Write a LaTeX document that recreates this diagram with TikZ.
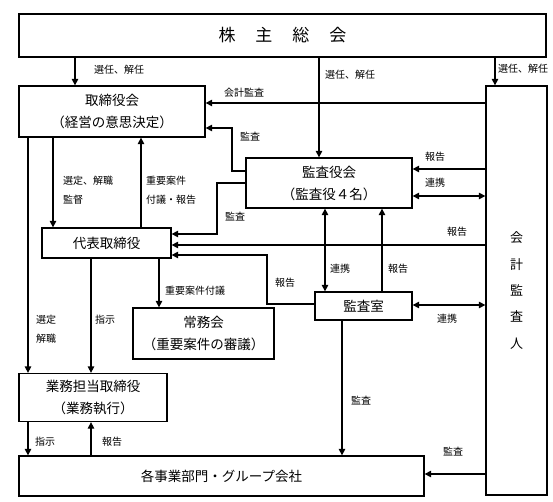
\documentclass[tikz,border=0pt]{standalone}
\usepackage{fontspec}
\setmainfont{Noto Sans CJK JP}
\usetikzlibrary{arrows.meta}
\begin{document}
\begin{tikzpicture}[x=1pt,y=-1pt,
  box/.style={draw,line width=1.3pt,inner sep=0pt,align=center,font=\fontsize{13.5}{22}\selectfont},
  conn/.style={line width=1.3pt},
  arr/.style={conn,-{Triangle[length=6.5pt,width=6.5pt]}},
  darr/.style={conn,{Triangle[length=6.5pt,width=6.5pt]}-{Triangle[length=6.5pt,width=6.5pt]}},
  lbl/.style={font=\fontsize{10}{10}\selectfont,inner sep=0pt}]
\useasboundingbox (0,0) rectangle (553,502);

% boxes
\node[box,minimum width=527pt,minimum height=43pt,font=\fontsize{17}{17}\selectfont] (top) at (282.5,35.5) {株\hspace{20pt}主\hspace{20pt}総\hspace{20pt}会};
\node[box,minimum width=186pt,minimum height=51pt] (tori) at (112,111.5) {取締役会\\（経営の意思決定）};
\node[box,minimum width=61pt,minimum height=409pt,font=\fontsize{13}{26.3}\selectfont] (kaikei) at (516.5,290.5) {会\\計\\監\\査\\人};
\node[box,minimum width=166pt,minimum height=50pt] (kansayaku) at (329,183) {監査役会\\（監査役４名）};
\node[box,minimum width=129pt,minimum height=30pt] (daihyo) at (106.5,243) {代表取締役};
\node[box,minimum width=141pt,minimum height=51pt] (jomu) at (203.5,333.5) {常務会\\（重要案件の審議）};
\node[box,minimum width=97pt,minimum height=28pt] (shitsu) at (363.5,306) {監査室};
\node[box,minimum width=148pt,minimum height=48pt] (gyomu) at (93,397.5) {業務担当取締役\\（業務執行）};
\node[box,minimum width=405pt,minimum height=40pt] (kaku) at (221.5,476) {各事業部門・グループ会社};

% helper coordinates
\coordinate (xa) at (75,0);
\coordinate (xb) at (319,0);
\coordinate (xc) at (495,0);
\coordinate (xd) at (28,0);
\coordinate (xe) at (53,0);
\coordinate (xf) at (141,0);
\coordinate (xg) at (91,0);
\coordinate (xh) at (159,0);
\coordinate (xi) at (325,0);
\coordinate (xj) at (382,0);
\coordinate (xk) at (342,0);
\coordinate (ya) at (0,103);
\coordinate (yb) at (0,169);
\coordinate (yc) at (0,196);
\coordinate (yd) at (0,245);
\coordinate (ye) at (0,305);
\coordinate (yf) at (0,474);
\coordinate (p1) at (232,171);
\coordinate (p2) at (232,128);
\coordinate (p3) at (217,183);
\coordinate (p4) at (217,234);
\coordinate (p5) at (267,304);
\coordinate (p6) at (267,255);

% connectors
\draw[arr] (xa |- top.south) -- (xa |- tori.north);
\draw[arr] (xb |- top.south) -- (xb |- kansayaku.north);
\draw[arr] (xc |- top.south) -- (xc |- kaikei.north);
\draw[arr] (kaikei.west |- ya) -- (tori.east |- ya);
\draw[arr] (kansayaku.west |- p1) -- (p1) -- (p2) -- (tori.east |- p2);
\draw[arr] (kansayaku.west |- p3) -- (p3) -- (p4) -- (daihyo.east |- p4);
\draw[arr] (kaikei.west |- yb) -- (kansayaku.east |- yb);
\draw[darr] (kansayaku.east |- yc) -- (kaikei.west |- yc);
\draw[arr] (kaikei.west |- yd) -- (daihyo.east |- yd);
\draw[arr] (shitsu.west |- p5) -- (p5) -- (p6) -- (daihyo.east |- p6);
\draw[darr] (xi |- kansayaku.south) -- (xi |- shitsu.north);
\draw[arr] (xj |- shitsu.north) -- (xj |- kansayaku.south);
\draw[darr] (shitsu.east |- ye) -- (kaikei.west |- ye);
\draw[arr] (xk |- shitsu.south) -- (xk |- kaku.north);
\draw[arr] (kaikei.west |- yf) -- (kaku.east |- yf);
\draw[arr] (xe |- tori.south) -- (xe |- daihyo.north);
\draw[arr] (xf |- daihyo.north) -- (xf |- tori.south);
\draw[arr] (xd |- tori.south) -- (xd |- gyomu.north);
\draw[arr] (xg |- daihyo.south) -- (xg |- gyomu.north);
\draw[arr] (xh |- daihyo.south) -- (xh |- jomu.north);
\draw[arr] (xd |- gyomu.south) -- (xd |- kaku.north);
\draw[arr] (xg |- kaku.north) -- (xg |- gyomu.south);

% labels
\node[lbl] (l1) at (119,70) {選任、解任};
\node[lbl] (l2) at (350,75) {選任、解任};
\node[lbl] (l3) at (523,69) {選任、解任};
\node[lbl] (l4) at (244,93) {会計監査};
\node[lbl] (l5) at (250,137) {監査};
\node[lbl] (l6) at (235,217) {監査};
\node[lbl] (l7) at (88,181) {選定、解職};
\node[lbl] (l8) at (73,200) {監督};
\node[lbl] (l9) at (166,181) {重要案件};
\node[lbl] (l10) at (171,200) {付議・報告};
\node[lbl] (l11) at (195,291) {重要案件付議};
\node[lbl] (l12) at (285,283) {報告};
\node[lbl] (l13) at (340,269) {連携};
\node[lbl] (l14) at (398,269) {報告};
\node[lbl] (l15) at (435,157) {報告};
\node[lbl] (l16) at (435,183) {連携};
\node[lbl] (l17) at (457,232) {報告};
\node[lbl] (l18) at (447,319) {連携};
\node[lbl] (l19) at (361,401) {監査};
\node[lbl] (l20) at (453,452) {監査};
\node[lbl] (l21) at (46,320) {選定};
\node[lbl] (l22) at (46,339) {解職};
\node[lbl] (l23) at (105,320) {指示};
\node[lbl] (l24) at (45,442) {指示};
\node[lbl] (l25) at (112,442) {報告};
\end{tikzpicture}
\end{document}
